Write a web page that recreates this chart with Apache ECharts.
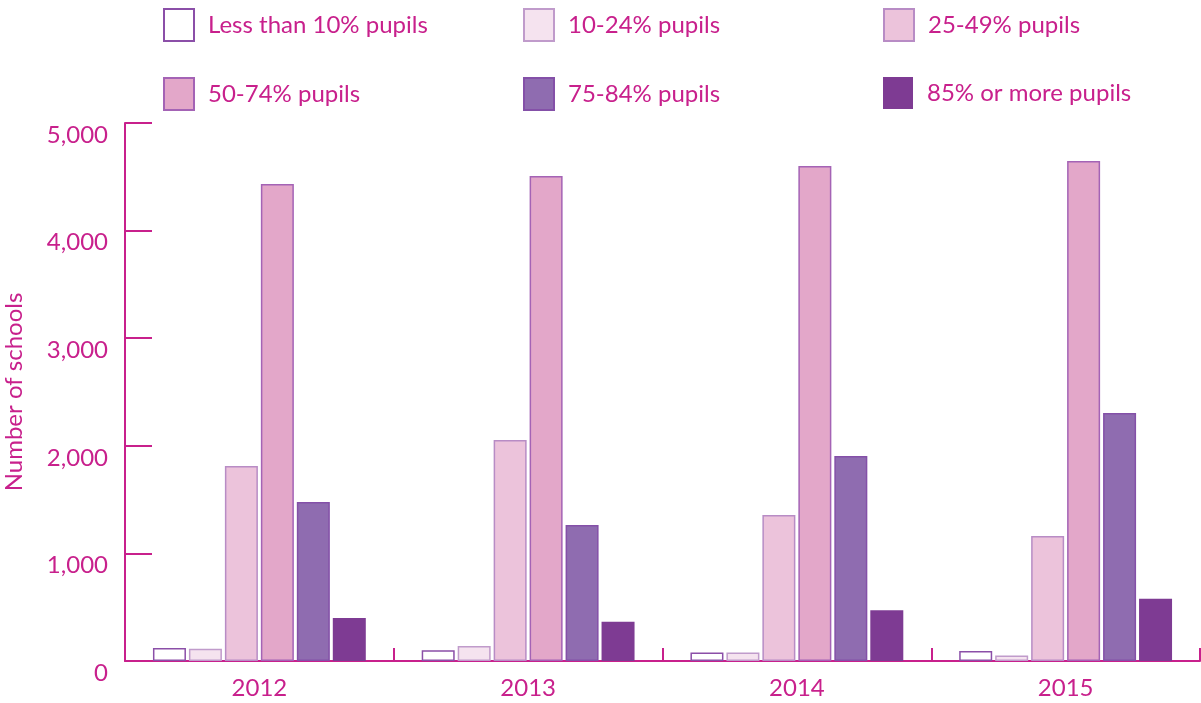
<!DOCTYPE html>
<html>
<head>
<meta charset="utf-8">
<script src="https://cdn.jsdelivr.net/npm/echarts@6/dist/echarts.min.js"></script>
<style>
  html, body { margin: 0; padding: 0; background: #fff; }
  #chart { width: 1201px; height: 703px; }
</style>
</head>
<body>
<div id="chart"></div>
<script>
// data
const years = ["2012", "2013", "2014", "2015"]
const seriesNames = [
  "Less than 10% pupils",
  "10-24% pupils",
  "25-49% pupils",
  "50-74% pupils",
  "75-84% pupils",
  "85% or more pupils"
]
const lessThan10 = [120, 100, 80, 93]
const from10to24 = [115, 139, 79, 50]
const from25to49 = [1812, 2054, 1357, 1162]
const from50to74 = [4433, 4507, 4600, 4647]
const from75to84 = [1478, 1264, 1905, 2305]
const over85 = [400, 365, 471, 579]
const yTicks = [0, 1000, 2000, 3000, 4000, 5000]

const pink = "#c8208c"
const font = "Lato, 'Open Sans', sans-serif"

const fills = ["#ffffff", "#f5e3ef", "#ecc3db", "#e3a7c9", "#8f6cb0", "#7e3b93"]
const borders = ["#8b4fa8", "#c09bcb", "#b88cc5", "#a463b5", "#8450a8", "#7e3b93"]
const allValues = [lessThan10, from10to24, from25to49, from50to74, from75to84, over85]

const chart = echarts.init(document.getElementById("chart"))

// one legend per entry, so they sit in fixed columns
const legendPos = [
  { left: 163, top: 8 }, { left: 523, top: 8 }, { left: 883, top: 8 },
  { left: 163, top: 77 }, { left: 523, top: 77 }, { left: 883, top: 77 }
]
const legends = seriesNames.map((name, i) => ({
  data: [name],
  left: legendPos[i].left,
  top: legendPos[i].top,
  itemWidth: 30,
  itemHeight: 32,
  itemGap: 0,
  padding: 0,
  selectedMode: false,
  icon: "rect",
  textStyle: { color: pink, fontSize: 24, fontFamily: font, padding: [0, 0, 0, 9] }
}))

const series = seriesNames.map((name, i) => ({
  type: "bar",
  name: name,
  data: allValues[i],
  barWidth: 33,
  barGap: "9%",
  itemStyle: {
    color: fills[i],
    borderColor: borders[i],
    borderWidth: i === 5 ? 0 : 1.5
  }
}))

chart.setOption({
  animation: false,
  legend: legends,
  grid: { left: 125, right: 1, top: 123, bottom: 42, containLabel: false, outerBoundsMode: "none" },
  xAxis: {
    type: "category",
    data: years,
    axisLine: { show: true, lineStyle: { color: pink, width: 2 } },
    axisTick: { show: true, inside: true, length: 13, alignWithLabel: false, lineStyle: { color: pink, width: 2 } },
    axisLabel: { color: pink, fontSize: 24, fontFamily: font, margin: 15 }
  },
  yAxis: {
    type: "value",
    min: 0,
    max: 5000,
    interval: 1000,
    name: "Number of schools",
    nameLocation: "middle",
    nameGap: 99,
    nameTextStyle: { color: pink, fontSize: 24, fontFamily: font },
    axisLine: { show: true, lineStyle: { color: pink, width: 2 } },
    axisTick: { show: true, inside: true, length: 27, lineStyle: { color: pink, width: 2 } },
    splitLine: { show: false },
    axisLabel: {
      color: pink,
      fontSize: 24,
      fontFamily: font,
      margin: 17,
      verticalAlign: "top",
      formatter: v => (yTicks.includes(v) ? v.toLocaleString("en-US") : "")
    }
  },
  series: series
})
</script>
</body>
</html>
